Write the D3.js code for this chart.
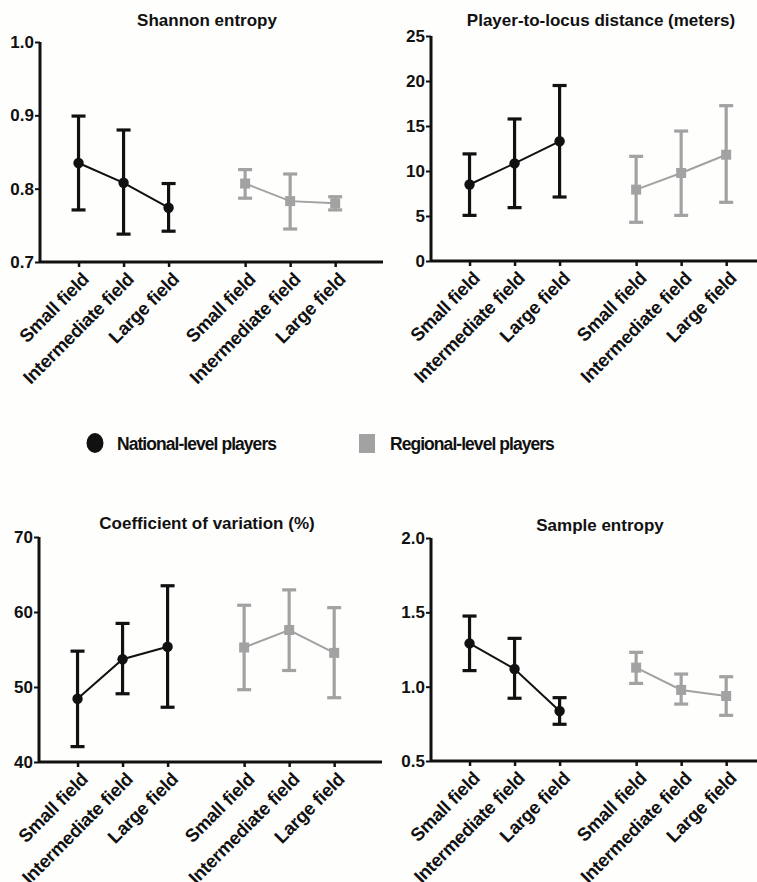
<!DOCTYPE html>
<html>
<head>
<meta charset="utf-8">
<script src="https://cdn.jsdelivr.net/npm/d3@7"></script>
<style>
  html, body { margin: 0; padding: 0; background: #fefefd; }
  svg { display: block; }
  text { font-family: "Liberation Sans", Arial, Helvetica, sans-serif; font-weight: bold; fill: #111; }
</style>
</head>
<body>
<svg id="chart" width="757" height="882"></svg>
<script>
// ---- data ----
const categories = ["Small field", "Intermediate field", "Large field"];
const groups = ["National-level players", "Regional-level players"];

const shannonNational = [
  { mean: 0.835, lo: 0.771, hi: 0.899 },
  { mean: 0.808, lo: 0.738, hi: 0.880 },
  { mean: 0.774, lo: 0.742, hi: 0.807 }
];
const shannonRegional = [
  { mean: 0.807, lo: 0.787, hi: 0.826 },
  { mean: 0.783, lo: 0.745, hi: 0.820 },
  { mean: 0.780, lo: 0.771, hi: 0.789 }
];
const distanceNational = [
  { mean: 8.5, lo: 5.07, hi: 11.9 },
  { mean: 10.85, lo: 5.93, hi: 15.78 },
  { mean: 13.3, lo: 7.11, hi: 19.5 }
];
const distanceRegional = [
  { mean: 7.93, lo: 4.3, hi: 11.63 },
  { mean: 9.78, lo: 5.07, hi: 14.44 },
  { mean: 11.81, lo: 6.52, hi: 17.26 }
];
const cvNational = [
  { mean: 48.44, lo: 42.05, hi: 54.78 },
  { mean: 53.7, lo: 49.1, hi: 58.48 },
  { mean: 55.36, lo: 47.3, hi: 63.5 }
];
const cvRegional = [
  { mean: 55.27, lo: 49.64, hi: 60.9 },
  { mean: 57.6, lo: 52.2, hi: 62.95 },
  { mean: 54.55, lo: 48.57, hi: 60.58 }
];
const sampenNational = [
  { mean: 1.291, lo: 1.108, hi: 1.475 },
  { mean: 1.119, lo: 0.922, hi: 1.325 },
  { mean: 0.836, lo: 0.747, hi: 0.926 }
];
const sampenRegional = [
  { mean: 1.128, lo: 1.022, hi: 1.231 },
  { mean: 0.978, lo: 0.883, hi: 1.085 },
  { mean: 0.937, lo: 0.807, hi: 1.067 }
];

const shannonTicks = [0.7, 0.8, 0.9, 1.0];
const distanceTicks = [0, 5, 10, 15, 20, 25];
const cvTicks = [40, 50, 60, 70];
const sampenTicks = [0.5, 1.0, 1.5, 2.0];

const panels = [
  { title: "Shannon entropy", nat: shannonNational, reg: shannonRegional, ticks: shannonTicks, fmt: d3.format(".1f"),
    left: 40, top: 42, bottom: 262, titleX: 207, titleY: 26 },
  { title: "Player-to-locus distance (meters)", nat: distanceNational, reg: distanceRegional, ticks: distanceTicks, fmt: d3.format("d"),
    left: 431, top: 36, bottom: 261, titleX: 601, titleY: 26 },
  { title: "Coefficient of variation (%)", nat: cvNational, reg: cvRegional, ticks: cvTicks, fmt: d3.format("d"),
    left: 39, top: 537, bottom: 762, titleX: 207, titleY: 529 },
  { title: "Sample entropy", nat: sampenNational, reg: sampenRegional, ticks: sampenTicks, fmt: d3.format(".1f"),
    left: 431, top: 538, bottom: 761, titleX: 600, titleY: 531 }
];

const colNat = "#111111";
const colReg = "#a2a2a2";
const plotW = 333;
// slot positions: national 0,1,2 ; regional 3.7,4.7,5.7
const natPos = [0, 1, 2];
const regPos = [3.7, 4.7, 5.7];

const svg = d3.select("#chart");

panels.forEach(p => {
  const g = svg.append("g").attr("transform", `translate(${p.left},0)`);
  const x = d3.scaleLinear().domain([-0.856, 6.54]).range([0, plotW]);
  const y = d3.scaleLinear().domain([p.ticks[0], p.ticks[p.ticks.length - 1]]).range([p.bottom, p.top]);

  // title
  svg.append("text").attr("x", p.titleX).attr("y", p.titleY)
    .attr("text-anchor", "middle").style("font-size", "17px").text(p.title);

  // y axis
  const yAx = g.append("g").call(d3.axisLeft(y).tickValues(p.ticks).tickFormat(p.fmt).tickSize(5).tickPadding(1));
  yAx.select(".domain").attr("stroke", "#111").attr("stroke-width", 3).attr("d", `M0,${p.bottom}V${p.top}`);
  yAx.selectAll(".tick line").attr("stroke", "#111").attr("stroke-width", 2);
  yAx.selectAll(".tick text").style("font-size", "17px").attr("fill", "#111")
    .style("font-family", "'Liberation Sans', Arial, sans-serif").style("font-weight", "bold");

  // x axis
  const allPos = natPos.concat(regPos);
  const xAx = g.append("g").attr("transform", `translate(0,${p.bottom})`)
    .call(d3.axisBottom(x).tickValues(allPos).tickFormat("").tickSize(5));
  xAx.select(".domain").attr("stroke", "#111").attr("stroke-width", 3).attr("d", `M0,0H${plotW + 10}`);
  xAx.selectAll(".tick line").attr("stroke", "#111").attr("stroke-width", 2.5);

  // category labels
  const labels = categories.concat(categories);
  allPos.forEach((pos, i) => {
    g.append("text")
      .attr("transform", `translate(${x(pos) + 7},${p.bottom + 14}) rotate(-45)`)
      .attr("text-anchor", "end").attr("dy", "0.35em")
      .style("font-size", "18.5px").style("letter-spacing", "-0.3px").text(labels[i]);
  });

  // series
  const series = [
    { data: p.nat, pos: natPos, color: colNat, shape: "circle" },
    { data: p.reg, pos: regPos, color: colReg, shape: "square" }
  ];
  series.forEach(s => {
    const pts = s.data.map((d, i) => ({ ...d, px: x(s.pos[i]) }));
    g.append("path").datum(pts)
      .attr("fill", "none").attr("stroke", s.color).attr("stroke-width", 2)
      .attr("d", d3.line().x(d => d.px).y(d => y(d.mean)));
    const eb = g.selectAll(null).data(pts).enter().append("g");
    eb.append("line").attr("x1", d => d.px).attr("x2", d => d.px)
      .attr("y1", d => y(d.lo)).attr("y2", d => y(d.hi))
      .attr("stroke", s.color).attr("stroke-width", 3.2);
    eb.append("line").attr("x1", d => d.px - 7).attr("x2", d => d.px + 7)
      .attr("y1", d => y(d.hi)).attr("y2", d => y(d.hi))
      .attr("stroke", s.color).attr("stroke-width", 3.2);
    eb.append("line").attr("x1", d => d.px - 7).attr("x2", d => d.px + 7)
      .attr("y1", d => y(d.lo)).attr("y2", d => y(d.lo))
      .attr("stroke", s.color).attr("stroke-width", 3.2);
    if (s.shape === "circle") {
      eb.append("circle").attr("cx", d => d.px).attr("cy", d => y(d.mean)).attr("r", 5.2).attr("fill", s.color);
    } else {
      eb.append("rect").attr("x", d => d.px - 5).attr("y", d => y(d.mean) - 5)
        .attr("width", 10).attr("height", 10).attr("fill", s.color);
    }
  });
});

// legend
const legend = svg.append("g");
legend.append("ellipse").attr("cx", 95).attr("cy", 443).attr("rx", 8.5).attr("ry", 10).attr("fill", colNat);
legend.append("text").attr("x", 117).attr("y", 449.5).style("font-size", "17.5px")
  .style("letter-spacing", "-0.95px").text(groups[0]);
legend.append("rect").attr("x", 359).attr("y", 434).attr("width", 16).attr("height", 19).attr("fill", colReg);
legend.append("text").attr("x", 390).attr("y", 449.5).style("font-size", "17.5px")
  .style("letter-spacing", "-0.95px").text(groups[1]);
</script>
</body>
</html>
